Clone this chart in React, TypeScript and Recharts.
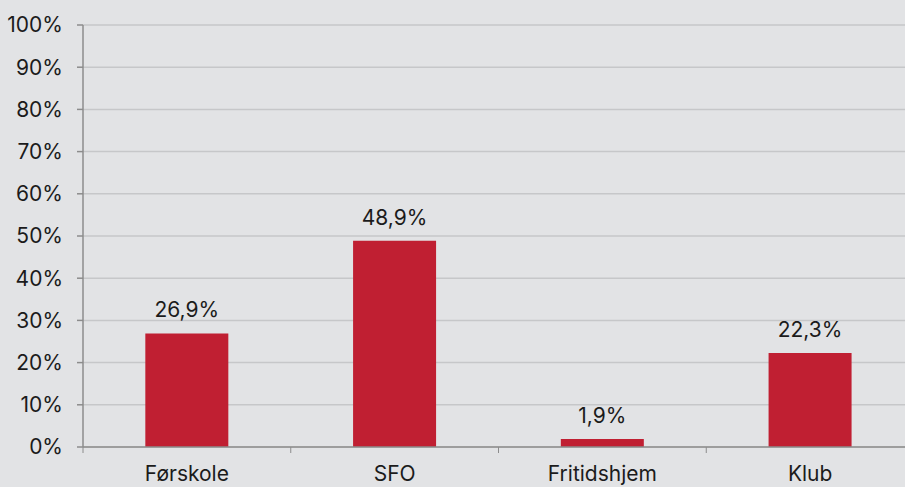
import React from 'react';
import { BarChart, Bar, XAxis, YAxis, CartesianGrid, LabelList } from 'recharts';

const categories = ['Førskole', 'SFO', 'Fritidshjem', 'Klub'];
const shares = [26.9, 48.9, 1.9, 22.3];
const yTicks = [0, 10, 20, 30, 40, 50, 60, 70, 80, 90, 100];

const chartData = categories.map((name, i) => ({ name, value: shares[i] }));

const FONT = 'Inter, "Noto Sans", sans-serif';
const FONT_SIZE = 21;
const TEXT = '#1b1b1b';
const AXIS = '#8c8c8c';
const TICK_SIZE = 6;
const TICK_MARGIN = 13;

// category label plus tick marks on the band edges (not the centres)
const EdgeTick = (props: any) => {
    const { x, y, width, visibleTicksCount, index, payload } = props;
    const bw = width / visibleTicksCount;
    const axisY = y - TICK_SIZE - TICK_MARGIN;
    const left = x - bw / 2;
    return (
        <g>
            <line x1={left} x2={left} y1={axisY} y2={axisY + TICK_SIZE} stroke={AXIS} strokeWidth={1} />
            {index === visibleTicksCount - 1 && (
                <line x1={left + bw} x2={left + bw} y1={axisY} y2={axisY + TICK_SIZE} stroke={AXIS} strokeWidth={1} />
            )}
            <text x={x} y={y} dy="0.72em" textAnchor="middle" fill={TEXT} fontSize={FONT_SIZE} fontFamily={FONT}>
                {payload.value}
            </text>
        </g>
    );
};

export default function App() {
    return (
        <div style={{ position: 'absolute', left: 0, top: 0, width: 905, height: 487, overflow: 'hidden', background: '#e2e3e5' }}>
            <BarChart
                width={914}
                height={487}
                data={chartData}
                margin={{ top: 25, right: 0, left: 0, bottom: 0 }}
                barCategoryGap="30%"
            >
                <CartesianGrid vertical={false} stroke="#c6c7c9" strokeWidth={1.5} />
                <XAxis
                    dataKey="name"
                    height={40}
                    axisLine={{ stroke: AXIS, strokeWidth: 1.5 }}
                    tickLine={false}
                    tickSize={TICK_SIZE}
                    tickMargin={TICK_MARGIN}
                    tick={<EdgeTick />}
                    interval={0}
                />
                <YAxis
                    width={83}
                    domain={[0, 100]}
                    ticks={yTicks}
                    interval={0}
                    tickFormatter={(v: number) => `${v}%`}
                    axisLine={{ stroke: AXIS, strokeWidth: 1.5 }}
                    tickLine={{ stroke: AXIS, strokeWidth: 1.5 }}
                    tickSize={TICK_SIZE}
                    tickMargin={14}
                    tick={{ fill: TEXT, fontSize: FONT_SIZE, fontFamily: FONT }}
                />
                <Bar dataKey="value" fill="#c01f32" isAnimationActive={false}>
                    <LabelList
                        dataKey="value"
                        position="top"
                        offset={16}
                        formatter={(v: any) => `${String(v).replace('.', ',')}%`}
                        style={{ fill: TEXT, fontSize: FONT_SIZE, fontFamily: FONT }}
                    />
                </Bar>
            </BarChart>
        </div>
    );
}
